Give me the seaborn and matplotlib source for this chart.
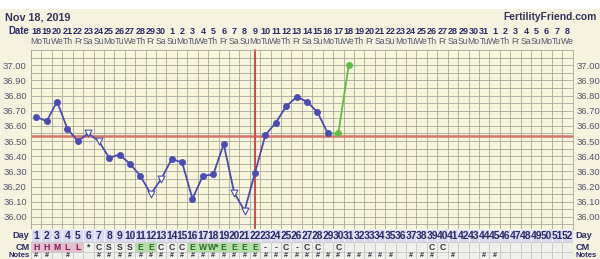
import numpy as np
import pandas as pd
import matplotlib
matplotlib.use("Agg")
import matplotlib.pyplot as plt
import seaborn as sns
from matplotlib.patches import Rectangle

# ---------------- data ----------------
days = list(range(1, 53))
dates = [18, 19, 20, 21, 22, 23, 24, 25, 26, 27, 28, 29, 30,
         1, 2, 3, 4, 5, 6, 7, 8, 9, 10, 11, 12, 13, 14, 15, 16, 17, 18, 19, 20,
         21, 22, 23, 24, 25, 26, 27, 28, 29, 30, 31,
         1, 2, 3, 4, 5, 6, 7, 8]
weekday_cycle = ["Mo", "Tu", "We", "Th", "Fr", "Sa", "Su"]
weekdays = [weekday_cycle[i % 7] for i in range(len(days))]

temp_days = list(range(1, 30))
temps = [36.66, 36.63, 36.76, 36.58, 36.50, 36.55, 36.50, 36.39, 36.41, 36.35,
         36.27, 36.15, 36.25, 36.38, 36.36, 36.12, 36.27, 36.28, 36.48, 36.16,
         36.04, 36.29, 36.54, 36.62, 36.73, 36.79, 36.76, 36.69, 36.55]
open_days = [6, 7, 12, 13, 20, 21]
new_days = [29, 30, 31]
new_temps = [36.55, 36.55, 37.00]

coverline = 36.53
ovulation_day = 22

cm_days = [1, 2, 3, 4, 5, 6, 7, 8, 9, 10, 11, 12, 13, 14, 15, 16, 17, 18, 19, 20,
           21, 22, 23, 24, 25, 26, 27, 28, 30, 39, 40]
cm_codes = ["H", "H", "M", "L", "L", "*", "C", "S", "S", "S", "E", "E", "C", "C",
            "C", "E", "W", "W*", "E", "E", "E", "E", "-", "-", "C", "-", "C", "C",
            "C", "C", "C"]
pink_days = [1, 2, 3, 4, 5]
green_days = [11, 12, 16, 17, 18, 19, 20, 21, 22]
notes_days = [1, 2, 4, 7, 8, 9, 10, 11, 12, 13, 14, 15, 16, 17, 18, 19, 20, 21,
              22, 23, 24, 25, 26, 27, 28, 29, 30, 31, 32, 33, 34, 35, 37, 38, 39,
              41, 44, 45]

yticks = [36.00, 36.10, 36.20, 36.30, 36.40, 36.50, 36.60, 36.70, 36.80, 36.90, 37.00]

# ---------------- style ----------------
sns.set_style("white")
plt.rcParams["font.family"] = ["Liberation Sans", "DejaVu Sans"]

W, H = 600, 259
fig = plt.figure(figsize=(W / 100, H / 100), dpi=100)
fig.patch.set_facecolor("white")
fig.patches.append(Rectangle((0, 0), 1, 1 - 9 / H, transform=fig.transFigure,
                             facecolor="#f5f3df", edgecolor="none", zorder=-10))

navy = "#2b2b66"
cream = "#f8f6da"
gridc = "#a9a89c"
blue = "#4b4bb4"
green = "#5cbf3f"

left_px, right_px, top_px, bot_px = 31, 572.7, 50, 229
ax = fig.add_axes([left_px / W, (H - bot_px) / H, (right_px - left_px) / W,
                   (bot_px - top_px) / H])
ax.set_facecolor(cream)
ax.set_xlim(0.5, 52.5)
ax.set_ylim(35.92, 37.10)

ax.set_yticks(yticks)
ax.set_yticklabels([f"{v:.2f}" for v in yticks])
ax.set_yticks(np.arange(35.95, 37.11, 0.1), minor=True)
ax.set_xticks(np.arange(0.5, 53, 1.0), minor=True)
ax.set_xticks([])
ax.grid(which="both", color=gridc, linewidth=0.6)
ax.set_axisbelow(True)
ax.tick_params(axis="y", which="both", length=0, labelsize=6.8, labelcolor="#55556e",
               labelleft=True, labelright=True, pad=3)
ax.tick_params(axis="x", which="both", length=0)
for s in ax.spines.values():
    s.set_color(gridc)
    s.set_linewidth(0.6)

# reference lines
ax.axhline(coverline, color="#d6746a", linewidth=1.8, zorder=2)
ax.axvline(ovulation_day, ymin=-0.03, ymax=1.0, color="#d04a4a", linewidth=1.4,
           zorder=2, clip_on=False)

# temperature line
df = pd.DataFrame({"day": temp_days, "temp": temps})
df["open"] = df["day"].isin(open_days)
sns.lineplot(data=df, x="day", y="temp", color=blue, linewidth=1.3, ax=ax, zorder=3)
sns.lineplot(x=new_days, y=new_temps, color=green, linewidth=1.3, ax=ax, zorder=3)
filled = df[~df["open"]]
opened = df[df["open"]]
sns.scatterplot(data=filled, x="day", y="temp", color=blue, s=20, edgecolor=blue,
                linewidth=0.5, ax=ax, zorder=4)
sns.scatterplot(data=opened, x="day", y="temp", marker="v", color="white", s=24,
                edgecolor=blue, linewidth=0.8, ax=ax, zorder=4)
sns.scatterplot(x=new_days[1:], y=new_temps[1:], color=green, s=20, edgecolor=green,
                linewidth=0.5, ax=ax, zorder=4)
ax.set_xlabel("")
ax.set_ylabel("")

# header: dates and weekdays
xt = ax.get_xaxis_transform()
for d, dt, wd in zip(days, dates, weekdays):
    ax.text(d, 1.106, str(dt), transform=xt, ha="center", va="center",
            fontsize=6.5, fontweight="bold", color=navy, clip_on=False)
    ax.text(d, 1.045, wd, transform=xt, ha="center", va="center",
            fontsize=6.2, color="#55556e", clip_on=False)
ax.text(0.3, 1.106, "Date", transform=xt, ha="right", va="center",
        fontsize=6.9, fontweight="bold", color=navy, clip_on=False)

fig.text(5 / W, 1 - 17 / H, "Nov 18, 2019", ha="left", va="center",
         fontsize=7.8, fontweight="bold", color="#33335c")
fig.text(597 / W, 1 - 17 / H, "FertilityFriend.com", ha="right", va="center",
         fontsize=7.4, fontweight="bold", color="#33335c")

# lower rows: Day / CM / Notes
ax2 = fig.add_axes([left_px / W, 0, (right_px - left_px) / W, (H - bot_px) / H])
ax2.set_xlim(0.5, 52.5)
ax2.set_ylim(30, 0)
ax2.axis("off")
rows = [("Day", 0, 13, 6.9), ("CM", 13, 23, 18.3)]
cm_map = dict(zip(cm_days, cm_codes))
for d in days:
    ax2.add_patch(Rectangle((d - 0.5, 0), 1, 13, facecolor="#d9d9ef",
                            edgecolor="#f3f3fa", linewidth=0.7))
    fc = "#efefeb"
    tc = "#333344"
    if d in pink_days:
        fc, tc = "#e9bdd1", "#7a1f55"
    elif d in green_days:
        fc, tc = "#b3dfa6", "#2c6a2c"
    ax2.add_patch(Rectangle((d - 0.5, 13), 1, 10, facecolor=fc,
                            edgecolor="#c9c9c4", linewidth=0.6))
    ax2.add_patch(Rectangle((d - 0.5, 23), 1, 10, facecolor="#efefeb",
                            edgecolor="#c9c9c4", linewidth=0.6, clip_on=True))
    ax2.text(d, 6.9, str(d), ha="center", va="center", fontsize=7.4,
             fontweight="bold", color=navy)
    if d in cm_map:
        ax2.text(d, 18.3, cm_map[d], ha="center", va="center", fontsize=6.2,
                 fontweight="bold", color=tc)
    if d in notes_days:
        ax2.text(d, 29.6, "#", ha="center", va="bottom", fontsize=5.2,
                 fontweight="bold", color="#333344")
for label, y0, y1, yc in rows:
    ax2.text(0.35, yc, label, ha="right", va="center", fontsize=6.6,
             fontweight="bold", color=navy, clip_on=False)
    ax2.text(52.75, yc, label, ha="left", va="center", fontsize=6.6,
             fontweight="bold", color=navy, clip_on=False)
for xpos, ha in [(0.35, "right"), (52.75, "left")]:
    ax2.text(xpos, 29.6, "Notes", ha=ha, va="bottom", fontsize=5.6,
             fontweight="bold", color=navy, clip_on=False)

fig.savefig("out.png", dpi=100, facecolor=fig.get_facecolor())
